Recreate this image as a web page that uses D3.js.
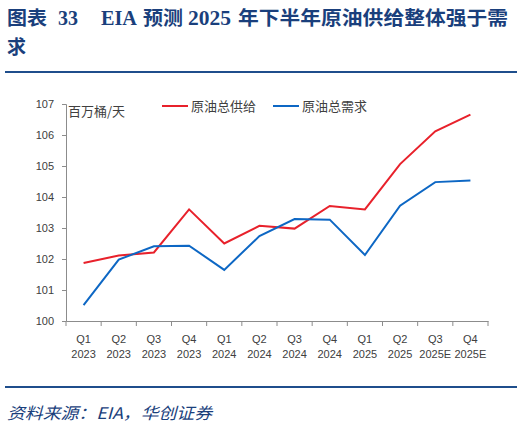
<!DOCTYPE html>
<html>
<head>
<meta charset="utf-8">
<script src="https://cdn.jsdelivr.net/npm/d3@7"></script>
<style>
  body { margin: 0; background: #fff; }
  svg text { font-family: "Liberation Sans", "Noto Sans CJK SC", sans-serif; }
</style>
</head>
<body>
<div id="chart"></div>
<script>
// quarters on the x axis
var quarters = ["Q1", "Q2", "Q3", "Q4", "Q1", "Q2", "Q3", "Q4", "Q1", "Q2", "Q3", "Q4"];
var years = ["2023", "2023", "2023", "2023", "2024", "2024", "2024", "2024", "2025", "2025", "2025E", "2025E"];
// million barrels per day
var supply = [101.87, 102.11, 102.21, 103.60, 102.50, 103.07, 102.98, 103.71, 103.60, 105.06, 106.12, 106.66];
var demand = [100.51, 101.98, 102.41, 102.43, 101.65, 102.74, 103.29, 103.27, 102.13, 103.72, 104.48, 104.53];
var yTicks = [100, 101, 102, 103, 104, 105, 106, 107];

var width = 526, height = 427;
var margin = {top: 104, left: 66, right: 38, bottom: 106};
var titleColor = "#1a3f7c";

var svg = d3.select("#chart")
    .append("svg")
    .attr("width", width)
    .attr("height", height);

// title, pieces placed one by one like the original
var titleParts = [
    {t: "图表", x: 7, len: 40, cjk: true},
    {t: "33", x: 58, len: 20, cjk: false},
    {t: "EIA", x: 101, len: 36, cjk: false},
    {t: "预测", x: 143, len: 40, cjk: true},
    {t: "2025", x: 188, len: 43, cjk: false},
    {t: "年下半年原油供给整体强于需", x: 238, len: 270, cjk: true}
];
svg.selectAll(".title")
    .data(titleParts)
    .enter()
    .append("text")
    .attr("x", function(d) { return d.x; })
    .attr("y", 25)
    .attr("textLength", function(d) { return d.len; })
    .attr("lengthAdjust", "spacingAndGlyphs")
    .attr("fill", titleColor)
    .style("font-family", function(d) { return d.cjk ? "'Noto Sans CJK SC', serif" : "'Liberation Serif', serif"; })
    .style("font-weight", "bold")
    .style("font-size", function(d) { return d.cjk ? "19px" : "21px"; })
    .text(function(d) { return d.t; });
svg.append("text")
    .attr("x", 7)
    .attr("y", 54)
    .attr("fill", titleColor)
    .style("font-family", "'Noto Sans CJK SC', serif")
    .style("font-weight", "bold")
    .style("font-size", "19px")
    .text("求");

svg.append("rect")
    .attr("x", 5).attr("y", 71)
    .attr("width", 512).attr("height", 2)
    .attr("fill", "#1f4e8c");

svg.append("rect")
    .attr("x", 5).attr("y", 386)
    .attr("width", 512).attr("height", 2)
    .attr("fill", "#1f4e8c");

svg.append("text")
    .attr("x", 7)
    .attr("y", 419)
    .attr("textLength", 205)
    .attr("lengthAdjust", "spacingAndGlyphs")
    .attr("fill", titleColor)
    .style("font-family", "'Noto Sans CJK SC', serif")
    .style("font-style", "italic")
    .style("font-size", "16px")
    .text("资料来源：EIA，华创证券");

var xScale = d3.scaleBand()
    .domain(d3.range(quarters.length))
    .range([margin.left, width - margin.right]);

var yScale = d3.scaleLinear()
    .domain([100, 107])
    .range([height - margin.bottom, margin.top]);

var xAxis = svg.append("g")
    .attr("transform", `translate(0,${height - margin.bottom})`)
    .call(d3.axisBottom(xScale).tickSize(0).tickFormat(""));
xAxis.select(".domain").attr("stroke", "#8c8c8c");

// tick marks sit on the band edges
xAxis.selectAll(".edge")
    .data(d3.range(quarters.length + 1))
    .enter()
    .append("line")
    .attr("x1", function(d) { return margin.left + d * xScale.bandwidth(); })
    .attr("x2", function(d) { return margin.left + d * xScale.bandwidth(); })
    .attr("y1", 0)
    .attr("y2", 5)
    .attr("stroke", "#8c8c8c");

var xLabels = xAxis.selectAll(".xlab")
    .data(d3.range(quarters.length))
    .enter()
    .append("text")
    .attr("text-anchor", "middle")
    .attr("fill", "#404040")
    .style("font-size", "11px");
xLabels.append("tspan")
    .attr("x", function(d) { return xScale(d) + xScale.bandwidth() / 2; })
    .attr("y", 22)
    .text(function(d) { return quarters[d]; });
xLabels.append("tspan")
    .attr("x", function(d) { return xScale(d) + xScale.bandwidth() / 2; })
    .attr("y", 37)
    .text(function(d) { return years[d]; });

var yAxis = svg.append("g")
    .attr("transform", `translate(${margin.left},0)`)
    .call(d3.axisLeft(yScale).tickValues(yTicks).tickFormat(d3.format("d")).tickSize(4).tickPadding(8));
yAxis.select(".domain").attr("stroke", "#8c8c8c");
yAxis.selectAll(".tick line").attr("stroke", "#8c8c8c");
yAxis.selectAll(".tick text")
    .attr("fill", "#404040")
    .style("font-size", "11px");

svg.append("text")
    .attr("x", 68)
    .attr("y", 116)
    .attr("fill", "#404040")
    .style("font-family", "'Noto Sans CJK SC', sans-serif")
    .style("font-size", "13px")
    .text("百万桶/天");

var line = d3.line()
    .x(function(d, i) { return xScale(i) + xScale.bandwidth() / 2; })
    .y(function(d) { return yScale(d); });

var series = [
    {name: "原油总供给", values: supply, color: "#e8212b"},
    {name: "原油总需求", values: demand, color: "#0d67c4"}
];

svg.selectAll(".series")
    .data(series)
    .enter()
    .append("path")
    .attr("d", function(d) { return line(d.values); })
    .attr("fill", "none")
    .attr("stroke", function(d) { return d.color; })
    .attr("stroke-width", 2);

// legend
var legend = svg.selectAll(".legend")
    .data(series)
    .enter()
    .append("g")
    .attr("transform", function(d, i) { return `translate(${162 + i * 111},106)`; });
legend.append("line")
    .attr("x1", 0).attr("x2", 26)
    .attr("stroke", function(d) { return d.color; })
    .attr("stroke-width", 2);
legend.append("text")
    .attr("x", 29)
    .attr("y", 5)
    .attr("fill", "#404040")
    .style("font-family", "'Noto Sans CJK SC', sans-serif")
    .style("font-size", "13px")
    .text(function(d) { return d.name; });
</script>
</body>
</html>
